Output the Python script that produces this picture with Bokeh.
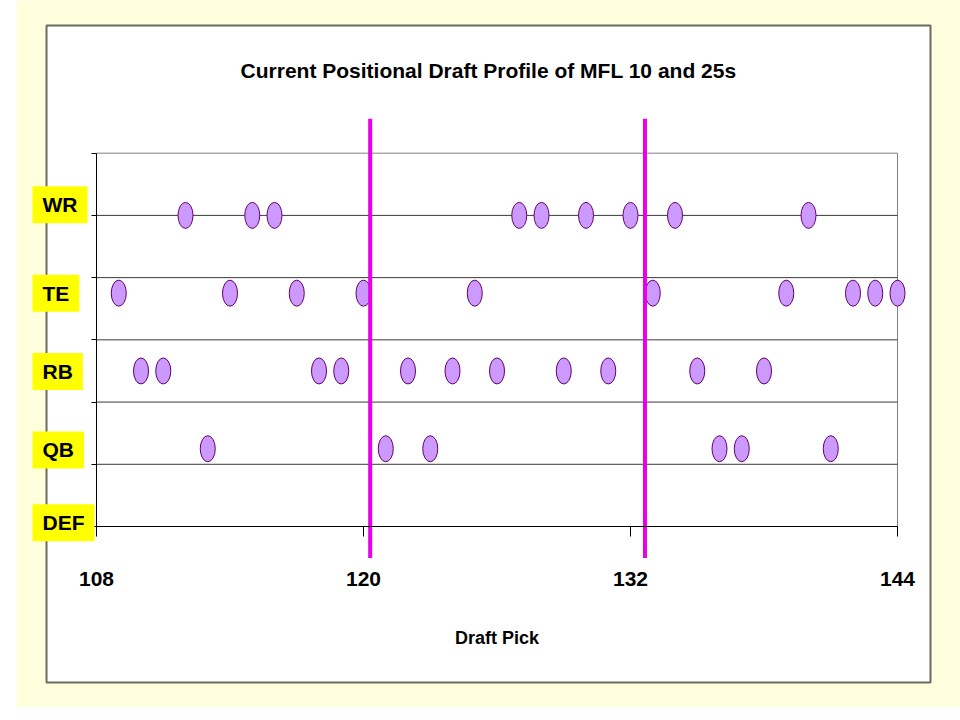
from bokeh.plotting import figure
from bokeh.models import Range1d, LinearAxis, FixedTicker, Label, ColumnDataSource, Spacer
from bokeh.layouts import row
from bokeh.embed import file_html
from bokeh.resources import INLINE

# ---------------- data ----------------
positions = ["WR", "TE", "RB", "QB", "DEF"]
position_y = [5.0, 3.75, 2.5, 1.25, 0.0]
wr_picks = [112, 115, 116, 127, 128, 130, 132, 134, 140]
te_picks = [109, 114, 117, 120, 125, 133, 139, 142, 143, 144]
rb_picks = [110, 111, 118, 119, 122, 124, 126, 129, 131, 135, 138]
qb_picks = [113, 121, 123, 136, 137, 141]
def_picks = []
x_ticks = [108, 120, 132, 144]
y_ticks = [0, 1, 2, 3, 4, 5, 6]
marker_lines = [120.3, 132.65]
title_text = "Current Positional Draft Profile of MFL 10 and 25s"
x_label = "Draft Pick"

# ---------------- style / layout ----------------
BG = "#FFFFDD"
SANS = "Liberation Sans"
X_START, X_END = 104.404, 146.831          # whole canvas in data units
Y_START, Y_END = -2.909, 8.454
BOX_L, BOX_R, BOX_B, BOX_T = 105.753, 145.483, -2.507, 8.052   # white chart box
LINE_TOP, LINE_BOTTOM = 6.553, -0.506
LABEL_X = 105.124
LABEL_Y_SHIFT = [0.17, 0.0, -0.01, -0.02, 0.06]
TITLE_Y = 7.33

picks_by_pos = [wr_picks, te_picks, rb_picks, qb_picks, def_picks]
xs, ys = [], []
for picks, yv in zip(picks_by_pos, position_y):
    for pk in picks:
        xs.append(pk)
        ys.append(yv)
src = ColumnDataSource(dict(x=xs, y=ys))

p = figure(width=944, height=707, output_backend="svg", toolbar_location=None,
           title=None, x_axis_location=None, y_axis_location=None,
           x_range=Range1d(X_START, X_END), y_range=Range1d(Y_START, Y_END),
           min_border_left=0, min_border_right=0, min_border_top=0, min_border_bottom=0)
p.border_fill_color = BG
p.background_fill_color = BG
p.outline_line_color = None
p.xgrid.visible = False
p.ygrid.visible = False

# white chart box with dark gray border
p.quad(left=BOX_L, right=BOX_R, bottom=BOX_B, top=BOX_T,
       fill_color="white", line_color="#6b6b60", line_width=2)

# plot area border (top/right) and gridlines
p.quad(left=x_ticks[0], right=x_ticks[-1], bottom=y_ticks[0], top=y_ticks[-1],
       fill_color=None, line_color="#808080", line_width=1)
inner = y_ticks[1:-1]
p.segment(x0=[x_ticks[0]] * len(inner), y0=inner, x1=[x_ticks[-1]] * len(inner), y1=inner,
          line_color="#3a3a3a", line_width=1)

# markers
p.ellipse(x="x", y="y", width=15, height=26, width_units="screen", height_units="screen",
          source=src, fill_color="#CC99FF", line_color="#660066", line_width=1)

# magenta reference lines
p.segment(x0=marker_lines, y0=[LINE_BOTTOM] * len(marker_lines),
          x1=marker_lines, y1=[LINE_TOP] * len(marker_lines),
          line_color="#E800E8", line_width=4)

# axes
xaxis = LinearAxis(fixed_location=0, bounds=(x_ticks[0], x_ticks[-1]),
                   ticker=FixedTicker(ticks=x_ticks, minor_ticks=[]), axis_label=x_label)
xaxis.axis_line_color = "black"
xaxis.major_tick_line_color = "black"
xaxis.major_tick_out = 10
xaxis.major_tick_in = 0
xaxis.minor_tick_line_color = None
xaxis.major_label_standoff = 35
xaxis.major_label_text_font = SANS
xaxis.major_label_text_font_style = "bold"
xaxis.major_label_text_font_size = "21px"
xaxis.major_label_text_color = "black"
xaxis.axis_label_standoff = 39
xaxis.axis_label_text_font = SANS
xaxis.axis_label_text_font_style = "bold"
xaxis.axis_label_text_font_size = "18px"
xaxis.axis_label_text_color = "black"
p.add_layout(xaxis, "below")

yaxis = LinearAxis(fixed_location=x_ticks[0], bounds=(y_ticks[0], y_ticks[-1]),
                   ticker=FixedTicker(ticks=y_ticks, minor_ticks=[]),
                   major_label_overrides={t: "" for t in y_ticks})
yaxis.axis_line_color = "black"
yaxis.major_tick_line_color = "black"
yaxis.major_tick_out = 5
yaxis.major_tick_in = 0
yaxis.minor_tick_line_color = None
p.add_layout(yaxis, "left")

# title inside the chart box
p.add_layout(Label(x=(BOX_L + BOX_R) / 2, y=TITLE_Y, text=title_text,
                   text_align="center", text_baseline="middle",
                   text_font=SANS, text_font_style="bold", text_font_size="21px",
                   text_color="black"))

# yellow position labels
for name, yv, dy in zip(positions, position_y, LABEL_Y_SHIFT):
    p.add_layout(Label(x=LABEL_X, y=yv + dy, text=name, text_align="left",
                       text_baseline="middle", text_font=SANS, text_font_style="bold",
                       text_font_size="21px", text_color="black",
                       background_fill_color="#FFFF00",
                       padding=dict(left=10, right=10, top=7, bottom=7)))

layout = row(Spacer(width=16, height=707), p)
open("out.html", "w").write(file_html(layout, INLINE))
